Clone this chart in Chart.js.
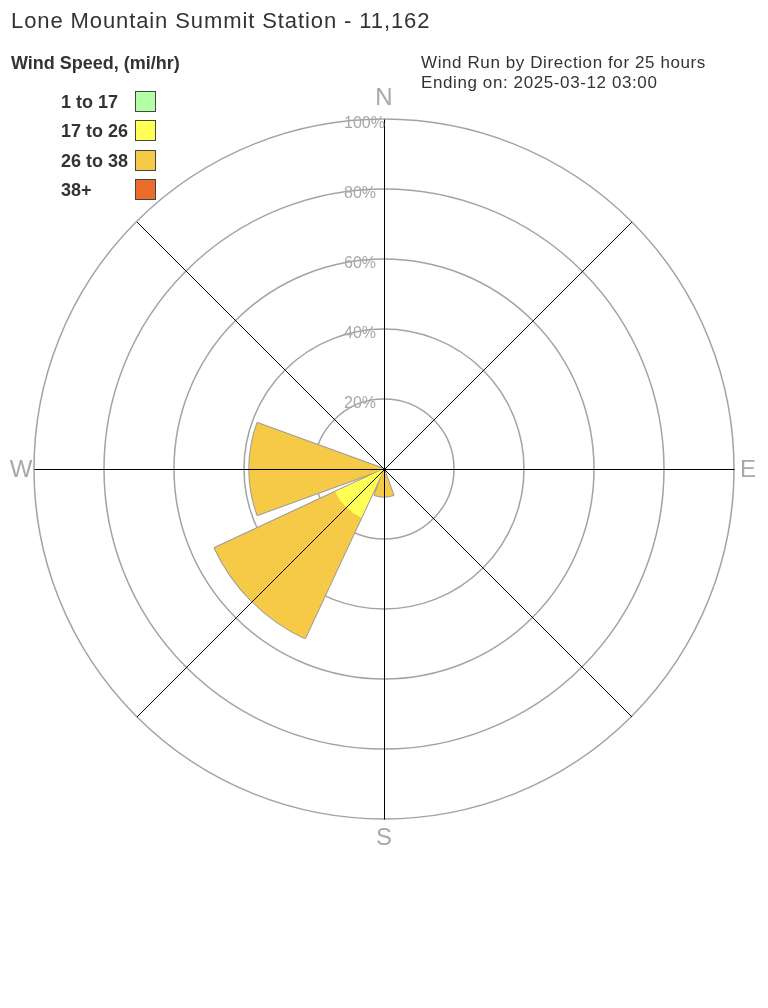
<!DOCTYPE html>
<html>
<head>
<meta charset="utf-8">
<title>Lone Mountain Summit Station - Wind Rose</title>
<script src="https://cdn.jsdelivr.net/npm/chart.js@4.4.1/dist/chart.umd.min.js"></script>
<style>
    body { margin: 0; background: #fff; font-family: "Liberation Sans", Arial, sans-serif; color: #333; }
    #wrap { position: relative; width: 768px; height: 1008px; overflow: hidden; }
    #rose { position: absolute; left: 0; top: 0; }
    .title { position: absolute; left: 11px; top: 8px; font-size: 22px; line-height: 26px; letter-spacing: 0.9px; white-space: nowrap; }
    .subtitle { position: absolute; left: 421px; top: 53px; font-size: 17px; line-height: 20px; letter-spacing: 0.6px; white-space: nowrap; }
    .legend { position: absolute; left: 11px; top: 52px; font-weight: bold; font-size: 18px; }
    .legend h4 { margin: 0 0 17px 0; font-size: 18px; line-height: 22px; }
    .legend .item { position: relative; height: 29.3px; line-height: 22px; padding-left: 50px; }
    .legend .box { position: absolute; left: 124px; top: 0; width: 19px; height: 19px; border: 1px solid #444; }
</style>
</head>
<body>
<div id="wrap">
    <canvas id="rose" width="768" height="1008"></canvas>
    <div class="title">Lone Mountain Summit Station - 11,162</div>
    <div class="subtitle">Wind Run by Direction for 25 hours<br>Ending on: 2025-03-12 03:00</div>
    <div class="legend" id="legend"><h4>Wind Speed, (mi/hr)</h4></div>
</div>
<script>
    const directions = ['N', 'NE', 'E', 'SE', 'S', 'SW', 'W', 'NW'];
    const speedBins = ['1 to 17', '17 to 26', '26 to 38', '38+'];
    const binColors = ['#b3ffa6', '#ffff55', '#f6ca46', '#ec6c2c'];

    // % of wind run per direction, one array per speed bin
    const run1to17 = [0, 0, 0, 0, 0, 0, 0, 0];
    const run17to26 = [0, 0, 0, 0, 0, 15.4, 0, 0];
    const run26to38 = [0, 0, 0, 0, 7.9, 38.0, 38.5, 0];
    const run38plus = [0, 0, 0, 0, 0, 0, 0, 0];

    const ringTicks = [20, 40, 60, 80, 100];
    const compassLabels = ['N', 'E', 'S', 'W'];

    const binRuns = [run1to17, run17to26, run26to38, run38plus];

    // each direction is one 40 degree wedge, with a 5 degree gap between wedges
    const labels = [];
    directions.forEach(d => { labels.push(''); labels.push(d); });

    const datasets = binRuns.map((run, b) => {
        const data = [];
        directions.forEach((d, k) => {
            let total = 0;
            for (let j = 0; j <= b; j++) total += binRuns[j][k];
            data.push(0);
            data.push(total);
        });
        return {
            label: speedBins[b],
            data: data,
            backgroundColor: binColors[b],
            borderColor: '#9c9c9c',
            borderWidth: b === binRuns.length - 1 ? 2 : 0,
            angle: ctx => ctx.dataIndex % 2 === 1 ? 40 : (ctx.dataIndex === 0 ? 2.5 : 5)
        };
    });

    const roseOverlay = {
        id: 'roseOverlay',
        afterDatasetsDraw(chart) {
            const r = chart.scales.r;
            const ctx = chart.ctx;
            const cx = r.xCenter + 0.5, cy = r.yCenter + 0.5, rad = r.drawingArea;
            ctx.save();

            // compass lines
            ctx.strokeStyle = '#000';
            ctx.lineWidth = 1;
            ctx.beginPath();
            for (let i = 0; i < 4; i++) {
                const a = i * Math.PI / 4;
                ctx.moveTo(cx + Math.sin(a) * rad, cy - Math.cos(a) * rad);
                ctx.lineTo(cx - Math.sin(a) * rad, cy + Math.cos(a) * rad);
            }
            ctx.stroke();

            // ring labels
            ctx.fillStyle = '#a8a8a8';
            ctx.font = '16px "Liberation Sans", Arial, sans-serif';
            ctx.textAlign = 'left';
            ctx.textBaseline = 'middle';
            ringTicks.forEach(v => {
                ctx.fillText(v + '%', r.xCenter - 40, r.yCenter - r.getDistanceFromCenterForValue(v) + 5);
            });

            // N E S W
            const gap = { N: 22, E: 14, S: 18, W: 13 };
            ctx.font = '24px "Liberation Sans", Arial, sans-serif';
            ctx.textAlign = 'center';
            compassLabels.forEach((lab, i) => {
                const a = i * Math.PI / 2;
                const d = rad + gap[lab];
                ctx.fillText(lab, r.xCenter + Math.sin(a) * d, r.yCenter - Math.cos(a) * d + 1);
            });
            ctx.restore();
        }
    };

    const chart = new Chart(document.getElementById('rose'), {
        type: 'polarArea',
        data: { labels: labels, datasets: datasets },
        options: {
            responsive: false,
            animation: false,
            layout: { padding: { left: 34, right: 34, top: 119, bottom: 189 } },
            plugins: {
                legend: { display: false },
                tooltip: { enabled: false }
            },
            scales: {
                r: {
                    min: 0,
                    max: 100,
                    startAngle: -22.5,
                    ticks: { display: false, stepSize: 20 },
                    grid: { circular: true, color: '#a3a3a3', lineWidth: 1.5 },
                    angleLines: { display: false },
                    pointLabels: { display: false }
                }
            }
        },
        plugins: [roseOverlay]
    });

    const legend = document.getElementById('legend');
    chart.data.datasets.forEach(ds => {
        const item = document.createElement('div');
        item.className = 'item';
        item.textContent = ds.label;
        const box = document.createElement('span');
        box.className = 'box';
        box.style.background = ds.backgroundColor;
        item.appendChild(box);
        legend.appendChild(item);
    });
</script>
</body>
</html>
